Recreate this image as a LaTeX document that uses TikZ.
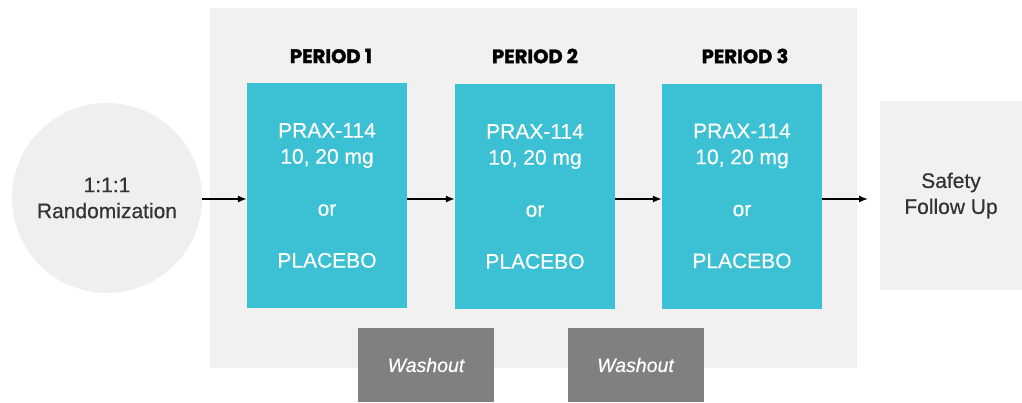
\documentclass[tikz,border=0pt]{standalone}
\usepackage{fontspec}
\setmainfont[UprightFeatures={FakeBold=0.4},ItalicFeatures={FakeBold=0.4}]{Liberation Sans}
\newfontfamily\titlefont[BoldFeatures={FakeBold=1.5}]{Poppins}
\usetikzlibrary{arrows.meta}
\definecolor{bgpanel}{HTML}{F1F1F1}
\definecolor{teal}{HTML}{3CC0D3}
\definecolor{wash}{HTML}{808080}
\definecolor{circ}{HTML}{EFEFEF}
\definecolor{dark}{HTML}{333333}
\tikzset{
  periodbox/.style={fill=teal, minimum width=160, minimum height=225, inner sep=0, text=white, font=\fontsize{21}{26}\selectfont, align=center},
  washbox/.style={fill=wash, minimum width=136, minimum height=74, inner sep=0, text=white, font=\fontsize{19.5}{22}\selectfont\itshape},
  ptitle/.style={font=\titlefont\bfseries\fontsize{19.5}{22}\selectfont, text=black},
  flow/.style={-{Latex[length=9pt,width=7pt]}, line width=1.4pt, black},
  plainlabel/.style={align=center, text=dark, font=\fontsize{21}{26}\selectfont},
}
\begin{document}
\begin{tikzpicture}[x=1pt,y=-1pt]
\useasboundingbox (0,0) rectangle (1022,402);
\fill[bgpanel] (210,8) rectangle (857,368);
\node[circle, fill=circ, minimum size=190, inner sep=0, plainlabel] (rand) at (107,198) {1:1:1\\Randomization};
\node[periodbox] (p1) at (327,195.5) {PRAX-114\\10, 20 mg\\[26pt]or\\[26pt]PLACEBO};
\node[periodbox] (p2) at (535,196.5) {PRAX-114\\10, 20 mg\\[26pt]or\\[26pt]PLACEBO};
\node[periodbox] (p3) at (742,196) {PRAX-114\\10, 20 mg\\[26pt]or\\[26pt]PLACEBO};
\node[ptitle] (t1) at (331,56) {PERIOD 1};
\node[ptitle] (t2) at (535,56) {PERIOD 2};
\node[ptitle] (t3) at (745,56) {PERIOD 3};
\node[fill=bgpanel, minimum width=142, minimum height=189, inner sep=0, plainlabel] (safe) at (951,195.5) {Safety\\Follow Up};
\node[washbox] (w1) at (426,365) {Washout};
\node[washbox] (w2) at (635.5,365) {Washout};
\coordinate (a1) at (202,199);
\draw[flow] (a1) -- (p1.west |- a1);
\draw[flow] (p1.east |- a1) -- (p2.west |- a1);
\draw[flow] (p2.east |- a1) -- (p3.west |- a1);
\coordinate (a4) at (868,199);
\draw[flow] (p3.east |- a1) -- (a4);
\end{tikzpicture}
\end{document}
